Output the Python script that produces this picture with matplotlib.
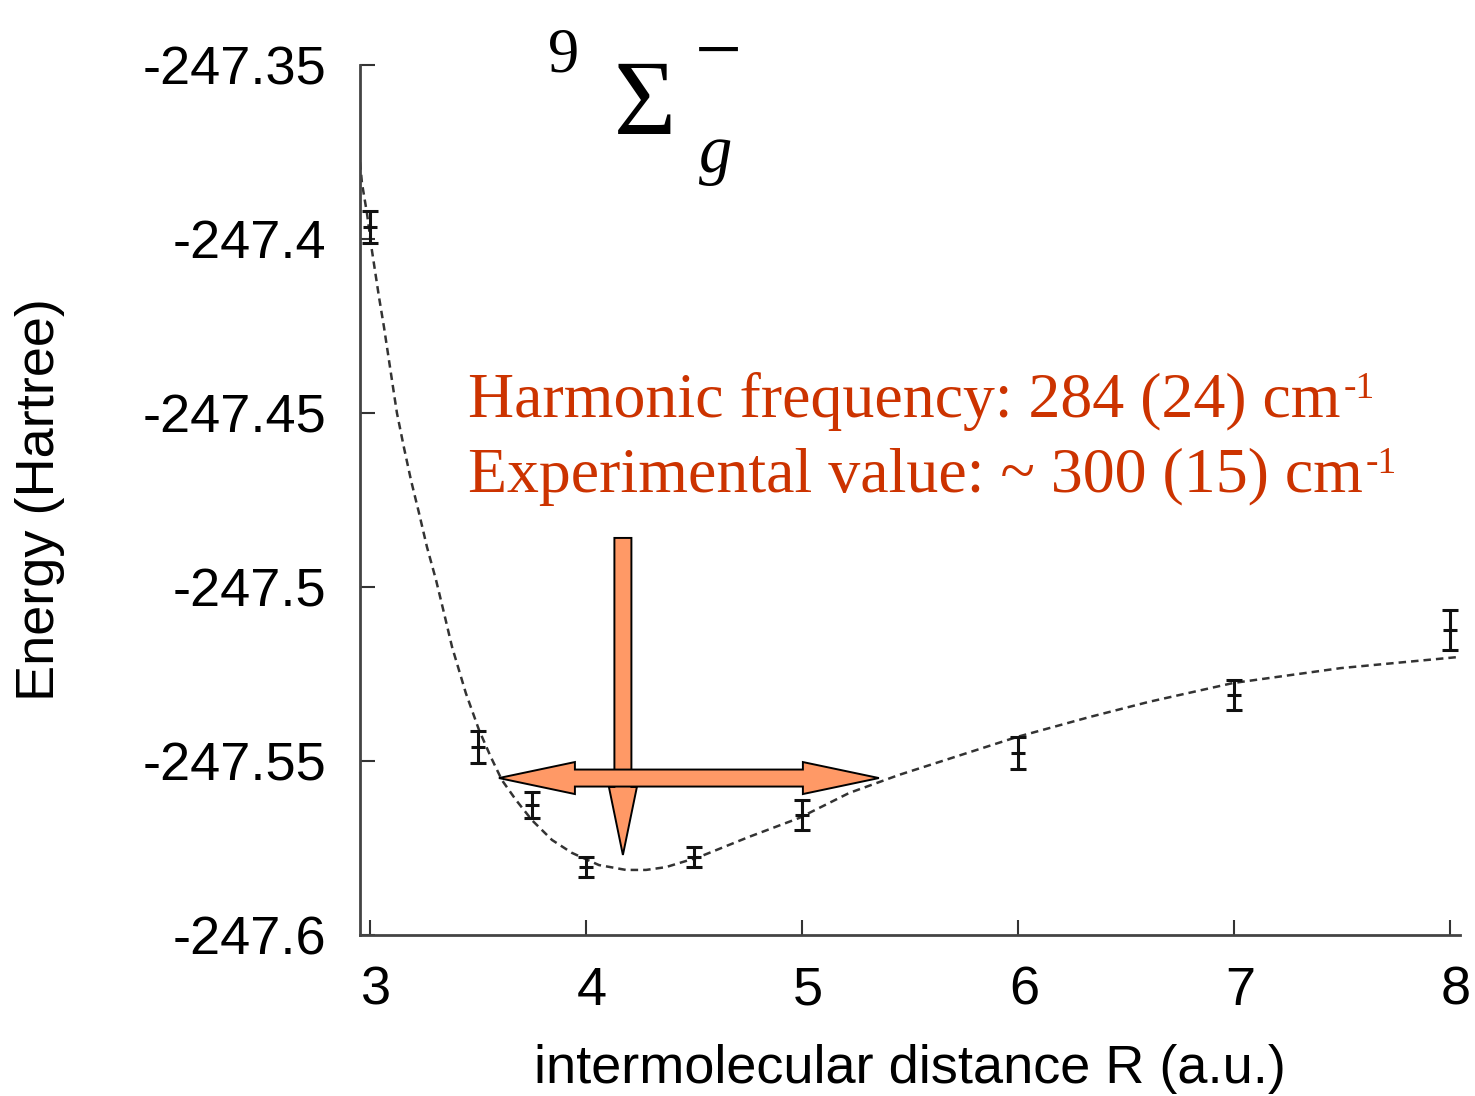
import matplotlib
matplotlib.use("Agg")
import matplotlib.pyplot as plt
from matplotlib.patches import Polygon
from matplotlib.transforms import IdentityTransform, ScaledTranslation

# ---------------- data ----------------
R_points = [3.0, 3.5, 3.75, 4.0, 4.5, 5.0, 6.0, 7.0, 8.0]
E_points = [-247.3966, -247.5460, -247.5626, -247.5805, -247.5776,
            -247.5655, -247.5477, -247.5310, -247.5124]
E_errors = [0.0046, 0.0047, 0.0037, 0.0029, 0.0028, 0.0042, 0.0046, 0.0044, 0.0057]

R_fit = [2.949, 2.963, 2.986, 3.009, 3.042, 3.065, 3.088, 3.111, 3.125, 3.157,
         3.190, 3.227, 3.264, 3.306, 3.343, 3.380, 3.444, 3.505, 3.560, 3.611,
         3.676, 3.750, 3.843, 3.935, 4.060, 4.185, 4.278, 4.370, 4.523, 4.755,
         4.986, 5.218, 5.449, 5.995, 6.329, 6.606, 6.995, 7.495, 8.042]
E_fit = [-247.3744, -247.3839, -247.3925, -247.4032, -247.4167, -247.4253,
         -247.4348, -247.4443, -247.4500, -247.4598, -247.4693, -247.4787,
         -247.4885, -247.4980, -247.5075, -247.5172, -247.5305, -247.5411,
         -247.5489, -247.5555, -247.5612, -247.5670, -247.5727, -247.5764,
         -247.5799, -247.5813, -247.5813, -247.5805, -247.5776, -247.5718,
         -247.5664, -247.5592, -247.5540, -247.5431, -247.5374, -247.5330,
         -247.5276, -247.5233, -247.5201]

x_ticks = [3, 4, 5, 6, 7, 8]
y_ticks = [-247.6, -247.55, -247.5, -247.45, -247.4, -247.35]
y_tick_labels = ["-247.6", "-247.55", "-247.5", "-247.45", "-247.4", "-247.35"]

line1 = "Harmonic frequency: 284 (24) cm"
line2 = "Experimental value: ~ 300 (15) cm"
sup = "-1"

# arrows (annotation geometry, data coords)
h_arrow = (3.597, 5.356, -247.5549)      # x_left, x_right, y
v_arrow = (4.171, -247.4859, -247.5770)  # x, y_top, y_tip

# ---------------- figure ----------------
W, H, DPI = 1475, 1096, 100
fig = plt.figure(figsize=(W / DPI, H / DPI), dpi=DPI)
ax = fig.add_axes([360 / W, 1 - 935 / H, 1100 / W, 870 / H])

sans = ["Liberation Sans", "DejaVu Sans"]
serif = ["Liberation Serif", "DejaVu Serif"]

ax.plot(R_fit, E_fit, color="#333333", lw=1.8, linestyle=(0, (3, 2)), zorder=2)
ax.errorbar(R_points, E_points, yerr=E_errors, fmt="_", color="#111111",
            ms=10, mew=2.2, elinewidth=2.2, capsize=5.5, capthick=2.2, zorder=3)

ax.set_xlim(2.954, 8.046)
ax.set_ylim(-247.6, -247.35)
ax.set_xticks(x_ticks)
ax.set_xticklabels([str(v) for v in x_ticks], fontfamily=sans, fontsize=39)
ax.set_yticks(y_ticks)
ax.set_yticklabels(y_tick_labels, fontfamily=sans, fontsize=39)
ax.tick_params(axis="both", direction="in", length=11, width=1.5, color="#333333")
ax.tick_params(axis="y", pad=24)
ax.tick_params(axis="x", pad=22)
shift = ScaledTranslation(6 / DPI, 0, fig.dpi_scale_trans)
for lab in ax.get_xticklabels():
    lab.set_transform(lab.get_transform() + shift)
for s in ["top", "right"]:
    ax.spines[s].set_visible(False)
for s in ["left", "bottom"]:
    ax.spines[s].set_linewidth(2.0)
    ax.spines[s].set_color("#444444")

ax.set_xlabel("intermolecular distance R (a.u.)", fontfamily=sans, fontsize=39)
ax.xaxis.set_label_coords(0.5, (935 - 1083) / 870)
ax.xaxis.label.set_va("baseline")
ax.set_ylabel("Energy (Hartree)", fontfamily=sans, fontsize=39)
ax.yaxis.set_label_coords((40 - 360) / 1100, 0.5)
ax.yaxis.label.set_va("center")

# ---------------- arrows ----------------
fig.canvas.draw()
T = ax.transData
fill = "#FF9966"

vx, vtop, vtip = v_arrow
(px, py_top) = T.transform((vx, vtop))
(_, py_tip) = T.transform((vx, vtip))
hs, hh, hl = 8.5, 14, 68
vpoly = [(px - hs, py_top), (px + hs, py_top), (px + hs, py_tip + hl),
         (px + hh, py_tip + hl), (px, py_tip), (px - hh, py_tip + hl),
         (px - hs, py_tip + hl)]
ax.add_patch(Polygon(vpoly, closed=True, transform=IdentityTransform(),
                     facecolor=fill, edgecolor="black", lw=1.4, zorder=4))

xl, xr, hy = h_arrow
(pxl, phy) = T.transform((xl, hy))
(pxr, _) = T.transform((xr, hy))
hs2, hh2, hl2 = 8.5, 16, 76
hpoly = [(pxl, phy), (pxl + hl2, phy + hh2), (pxl + hl2, phy + hs2),
         (pxr - hl2, phy + hs2), (pxr - hl2, phy + hh2), (pxr, phy),
         (pxr - hl2, phy - hh2), (pxr - hl2, phy - hs2), (pxl + hl2, phy - hs2),
         (pxl + hl2, phy - hh2)]
ax.add_patch(Polygon(hpoly, closed=True, transform=IdentityTransform(),
                     facecolor=fill, edgecolor="black", lw=1.4, zorder=5))

# ---------------- annotation text ----------------
red = "#CC3300"
t1 = fig.text(468 / W, 1 - 417 / H, line1, fontfamily=serif, fontsize=46,
              color=red, va="baseline", ha="left")
t2 = fig.text(468 / W, 1 - 492 / H, line2, fontfamily=serif, fontsize=46,
              color=red, va="baseline", ha="left")
fig.canvas.draw()
r = fig.canvas.get_renderer()
for t, base in [(t1, 417), (t2, 492)]:
    ext = t.get_window_extent(r)
    fig.text((ext.x1 + 3) / W, 1 - (base - 19) / H, sup, fontfamily=serif,
             fontsize=27, color=red, va="baseline", ha="left")

# term symbol  ^9 Sigma_g^-
fig.text(548 / W, 1 - 72 / H, "9", fontfamily=serif, fontsize=45,
         color="black", va="baseline", ha="left")
fig.text(645 / W, 1 - 134 / H, "\u03A3", fontfamily=serif, fontsize=77,
         color="black", va="baseline", ha="center")
fig.text(718 / W, 1 - 77 / H, "\u2212", fontfamily=serif, fontsize=60,
         color="black", va="baseline", ha="center")
fig.text(716 / W, 1 - 172 / H, "g", fontfamily=serif, fontstyle="italic",
         fontsize=48, color="black", va="baseline", ha="center")

fig.savefig("out.png", dpi=DPI)
